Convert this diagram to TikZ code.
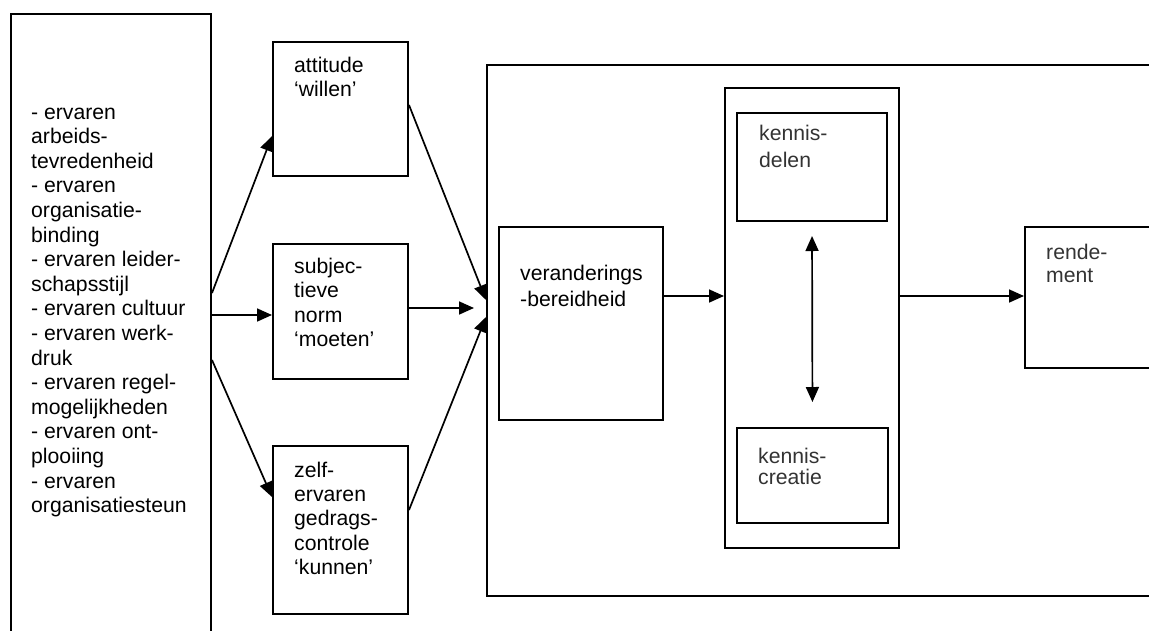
\documentclass[tikz,border=0pt]{standalone}
\usepackage{fontspec}
\setmainfont{Liberation Sans}
\usetikzlibrary{arrows.meta}
\newcommand{\boxtext}[3]{\parbox[t]{#1}{\fontsize{21.2}{#2}\selectfont\raggedright #3}}
\begin{document}
\begin{tikzpicture}[x=1pt,y=-1pt,
  box/.style={draw=black,line width=2pt,rectangle,inner sep=0pt},
  txt/.style={inner sep=0pt,anchor=base west,font=\fontsize{21.2}{24.6}\selectfont},
  gtxt/.style={txt,text=black!80},
  arr/.style={line width=1.7pt,-{Triangle[length=15pt,width=13pt]}},
  darr/.style={line width=1.7pt,{Triangle[length=15pt,width=13pt]}-{Triangle[length=15pt,width=13pt]}}]
\useasboundingbox (0,0) rectangle (1149,630);
\clip (0,0) rectangle (1149,630);

% input factors (box runs off the bottom edge)
\node[box,minimum width=200pt,minimum height=636pt] (left) at (111,332) {};
\node[txt] (tleft) at (31,119) {\boxtext{300pt}{24.6}{%
  - ervaren\\arbeids-\\tevredenheid\\- ervaren\\organisatie-\\binding\\
  - ervaren leider-\\schapsstijl\\- ervaren cultuur\\- ervaren werk-\\druk\\
  - ervaren regel-\\mogelijkheden\\- ervaren ont-\\plooiing\\- ervaren\\organisatiesteun}};

% attitude, norm, control
\node[box,minimum width=135pt,minimum height=134pt] (att) at (340.5,109) {};
\node[txt] (tatt) at (294,72) {\boxtext{120pt}{24}{attitude\\‘willen’}};
\node[box,minimum width=135pt,minimum height=135pt] (subj) at (340.5,311.5) {};
\node[txt] (tsubj) at (294,273) {\boxtext{120pt}{24.6}{subjec-\\tieve\\norm\\‘moeten’}};
\node[box,minimum width=135pt,minimum height=168pt] (zelf) at (340.5,530) {};
\node[txt] (tzelf) at (294,477) {\boxtext{120pt}{24.4}{zelf-\\ervaren\\gedrags-\\controle\\‘kunnen’}};

% outer frame (runs off the right edge)
\node[box,minimum width=683pt,minimum height=531pt] (outer) at (828.5,330.5) {};
\node[box,minimum width=164pt,minimum height=193pt] (ver) at (581,323.5) {};
\node[txt] (tver) at (520,280) {\boxtext{150pt}{26.5}{veranderings\\-bereidheid}};

% knowledge block
\node[box,minimum width=174pt,minimum height=460pt] (mid) at (812,318) {};
\node[box,minimum width=150pt,minimum height=108pt] (kd) at (812,167) {};
\node[gtxt] (tkd) at (759,140) {\boxtext{120pt}{27}{kennis-\\delen}};
\node[box,minimum width=151pt,minimum height=95pt] (kc) at (812.5,475.5) {};
\node[gtxt] (tkc) at (758,463) {\boxtext{120pt}{21}{kennis-\\creatie}};

% outcome (runs off the right edge)
\node[box,minimum width=145pt,minimum height=141pt] (rend) at (1097.5,297.5) {};
\node[gtxt] (trend) at (1046,259) {\boxtext{100pt}{23}{rende-\\ment}};

% connectors
\draw[arr] ([yshift=39pt]left.east) -- ([yshift=-27pt]att.west);
\draw[arr] ([yshift=-3.5pt]left.east |- subj.west) -- ([yshift=-3.5pt]subj.west);
\draw[arr] ([yshift=-28pt]left.east) -- ([yshift=33pt]zelf.west);
\draw[arr] ([yshift=4pt]att.east) -- ([yshift=30.5pt]outer.west);
\draw[arr,shorten >=12pt] ([yshift=3.5pt]subj.east) -- ([yshift=3.5pt]subj.east -| outer.west);
\draw[arr] ([yshift=20pt]zelf.east) -- ([yshift=13.5pt]outer.west);
\draw[arr] ([yshift=27.5pt]ver.east) -- ([yshift=27.5pt]ver.east -| mid.west);
\draw[arr] ([yshift=22pt]mid.east) -- ([yshift=22pt]mid.east -| rend.west);
\draw[darr,shorten <=14pt,shorten >=25pt] (kd.south) -- (kc.north);
\end{tikzpicture}
\end{document}
